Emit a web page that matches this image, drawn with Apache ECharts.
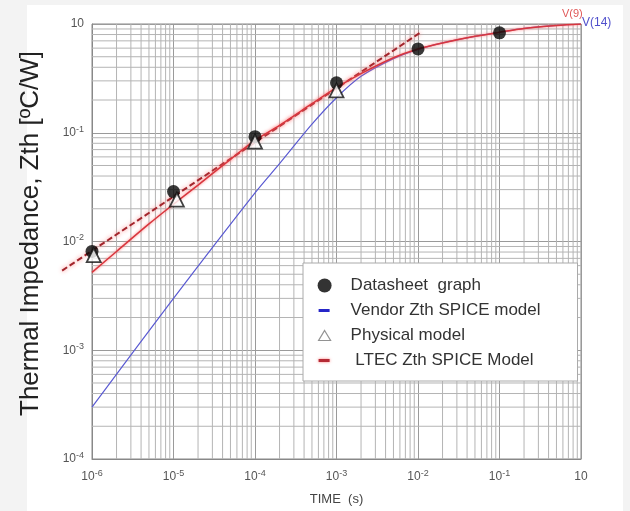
<!DOCTYPE html>
<html><head><meta charset="utf-8">
<script src="https://cdn.jsdelivr.net/npm/echarts@6/dist/echarts.min.js"></script>
<style>
html,body{margin:0;padding:0;background:#f3f3f3;}
#panel{position:absolute;left:27px;top:5px;width:596px;height:506px;background:#fff;}
#c{position:absolute;left:0;top:0;width:630px;height:511px;}
</style>
</head><body><div id="panel"></div><div id="c"></div>
<script>
// ---- tick labels ----
const xTickValues = [1e-6, 1e-5, 1e-4, 1e-3, 1e-2, 1e-1, 1];
const xTickLabels = ['10^-6', '10^-5', '10^-4', '10^-3', '10^-2', '10^-1', '10'];
const yTickValues = [1e-4, 1e-3, 1e-2, 1e-1, 1];
const yTickLabels = ['10^-4', '10^-3', '10^-2', '10^-1', '10'];

// ---- Datasheet graph (black dots) ----
const datasheetTime = [1e-6, 1e-5, 1e-4, 1e-3, 1e-2, 1e-1];
const datasheetZth  = [0.0081, 0.0288, 0.092, 0.288, 0.59, 0.83];

// ---- Physical model (triangles) ----
const physicalTime = [1.05e-6, 1.1e-5, 1e-4, 1e-3];
const physicalZth  = [0.0075, 0.0243, 0.083, 0.245];

// ---- Vendor Zth SPICE model (blue, V(14)) ----
const vendorTime = [1e-6, 1e-5, 1e-4, 2e-4, 5e-4, 1e-3, 2e-3, 5e-3, 1e-2, 2e-2, 5e-2, 1e-1, 2e-1, 5e-1, 1];
const vendorZth  = [3.0e-4, 3.0e-3, 0.028, 0.052, 0.12, 0.21, 0.33, 0.48, 0.585, 0.67, 0.77, 0.84, 0.91, 0.97, 1.0];

// ---- LTEC Zth SPICE Model (red, V(9)) ----
const ltecTime = [1e-6, 2e-6, 5e-6, 1e-5, 2e-5, 5e-5, 1e-4, 2e-4, 5e-4, 1e-3, 2e-3, 5e-3, 1e-2, 2e-2, 5e-2, 1e-1, 2e-1, 5e-1, 1];
const ltecZth  = [0.0052, 0.0081, 0.0145, 0.022, 0.033, 0.057, 0.085, 0.117, 0.185, 0.26, 0.35, 0.49, 0.59, 0.67, 0.77, 0.84, 0.91, 0.97, 1.0];

// ---- dashed power-law fit (dark red), start and end point ----
const fitTime = [4.3e-7, 1.06e-2];
const fitZth  = [0.0054, 0.83];

const zip = (a, b) => a.map((v, i) => [v, b[i]]);
const toRich = s => {
  const i = s.indexOf('^');
  return i < 0 ? '{b|' + s + '}' : '{b|' + s.slice(0, i) + '}{e|' + s.slice(i + 1) + '}';
};
const labelFor = (vals, labels) => v => {
  const k = vals.findIndex(t => Math.abs(Math.log10(t) - Math.log10(v)) < 1e-6);
  return k < 0 ? '' : toRich(labels[k]);
};
const tickRich = {
  b: {fontSize: 12, color: '#555', fontFamily: 'Liberation Sans', lineHeight: 16},
  e: {fontSize: 9, color: '#555', fontFamily: 'Liberation Sans', verticalAlign: 'top', lineHeight: 9}
};

// minor grid positions (2..9 within each decade)
const minorX = [], minorY = [];
xTickValues.slice(0, -1).forEach(d => { for (let m = 2; m <= 9; m++) minorX.push([m * d]); });
yTickValues.slice(0, -1).forEach(d => { for (let m = 2; m <= 9; m++) minorY.push([m * d]); });
const xMin = xTickValues[0], xMax = xTickValues[xTickValues.length - 1];
const yMin = yTickValues[0], yMax = yTickValues[yTickValues.length - 1];
const gridStyle = {stroke: '#b4b4b4', lineWidth: 1};

const chart = echarts.init(document.getElementById('c'), null, {renderer: 'canvas'});
chart.setOption({
  animation: false,
  backgroundColor: 'transparent',
  grid: {left: 92, right: 49, top: 24, bottom: 51, show: true, borderColor: '#888', borderWidth: 1, backgroundColor: 'transparent'},
  xAxis: {
    type: 'log', logBase: 10, min: xMin, max: xMax, splitNumber: 6,
    axisLine: {show: true, lineStyle: {color: '#888'}},
    axisTick: {show: false},
    splitLine: {show: true, lineStyle: {color: '#9a9a9a', width: 1}},
    axisLabel: {formatter: labelFor(xTickValues, xTickLabels), rich: tickRich, margin: 10},
    name: 'TIME  (s)', nameLocation: 'middle', nameGap: 34,
    nameTextStyle: {fontFamily: 'Liberation Sans', fontSize: 13, color: '#444'}
  },
  yAxis: {
    type: 'log', logBase: 10, min: yMin, max: yMax, splitNumber: 4,
    axisLine: {show: true, lineStyle: {color: '#888'}},
    axisTick: {show: false},
    splitLine: {show: true, lineStyle: {color: '#9a9a9a', width: 1}},
    axisLabel: {formatter: labelFor(yTickValues, yTickLabels), rich: tickRich, margin: 8},
    name: 'Thermal Impedance, Zth [ºC/W]', nameLocation: 'middle', nameGap: 48, nameRotate: 90,
    nameTextStyle: {fontFamily: 'Liberation Sans', fontSize: 26, color: '#222', padding: [0, 0, 0, 16]}
  },
  legend: {
    orient: 'vertical', left: 303, top: 263,
    padding: [14, 37, 12, 14], itemGap: 8, itemWidth: 14, itemHeight: 14,
    backgroundColor: '#fff', borderColor: '#aaa', borderWidth: 1,
    formatter: n => '{t|' + n + '}',
    textStyle: {rich: {t: {fontFamily: 'Liberation Sans', fontSize: 17, color: '#333', lineHeight: 16, padding: [0, 0, 0, 14]}}},
    data: [
      {name: 'Datasheet  graph', icon: 'circle', itemStyle: {color: '#000'}},
      {name: 'Vendor Zth SPICE model', icon: 'path://M0,0M14,14M1,5.5L12,5.5L12,8.5L1,8.5Z', itemStyle: {color: '#2626c8'}},
      {name: 'Physical model', icon: 'path://M0,0M14,14M7,2L13,12L1,12Z', itemStyle: {color: '#fff', borderColor: '#777', borderWidth: 1.2}},
      {name: ' LTEC Zth SPICE Model', icon: 'path://M0,0M14,14M1,5.5L12,5.5L12,8.5L1,8.5Z', itemStyle: {color: '#b52a35', shadowColor: 'rgba(255,90,90,0.8)', shadowBlur: 3}}
    ]
  },
  series: [
    {
      name: '_gridX', type: 'custom', silent: true, z: 1, data: minorX, encode: {x: 0},
      renderItem: (params, api) => {
        const p0 = api.coord([api.value(0), yMin]);
        const p1 = api.coord([api.value(0), yMax]);
        return {type: 'line', shape: {x1: p0[0], y1: p0[1], x2: p1[0], y2: p1[1]}, style: gridStyle};
      }
    },
    {
      name: '_gridY', type: 'custom', silent: true, z: 1, data: minorY, encode: {y: 0},
      renderItem: (params, api) => {
        const p0 = api.coord([xMin, api.value(0)]);
        const p1 = api.coord([xMax, api.value(0)]);
        return {type: 'line', shape: {x1: p0[0], y1: p0[1], x2: p1[0], y2: p1[1]}, style: gridStyle};
      }
    },
    {
      name: 'Vendor Zth SPICE model', type: 'line', data: zip(vendorTime, vendorZth),
      showSymbol: false, smooth: 0.3, z: 3,
      lineStyle: {color: '#5a5ad2', width: 1.2},
      itemStyle: {color: '#2626c8'},
      endLabel: {show: true, formatter: 'V(14)', color: '#5050cc', fontSize: 12, fontFamily: 'Liberation Sans', offset: [-7, -1]}
    },
    {
      name: '_fit', type: 'custom', clip: false, z: 4, silent: true,
      data: [[fitTime[0], fitZth[0], fitTime[1], fitZth[1]]],
      encode: {x: [0, 2], y: [1, 3]},
      renderItem: (params, api) => {
        const p0 = api.coord([api.value(0), api.value(1)]);
        const p1 = api.coord([api.value(2), api.value(3)]);
        return {
          type: 'line',
          shape: {x1: p0[0], y1: p0[1], x2: p1[0], y2: p1[1]},
          style: {stroke: '#a3252c', lineWidth: 2, lineDash: [6, 3], shadowColor: 'rgba(255,110,110,0.9)', shadowBlur: 4}
        };
      }
    },
    {
      name: ' LTEC Zth SPICE Model', type: 'line', data: zip(ltecTime, ltecZth),
      showSymbol: false, smooth: 0.3, z: 5,
      lineStyle: {color: '#d8363e', width: 1.5, shadowColor: 'rgba(255,110,110,0.9)', shadowBlur: 3},
      itemStyle: {color: '#b52a35'},
      endLabel: {show: true, formatter: 'V(9)', color: '#e05858', fontSize: 11, fontFamily: 'Liberation Sans', offset: [-27, -10]}
    },
    {
      name: 'Datasheet  graph', type: 'scatter', data: zip(datasheetTime, datasheetZth),
      symbol: 'circle', symbolSize: 13, z: 6, itemStyle: {color: '#080808'}
    },
    {
      name: 'Physical model', type: 'scatter', data: zip(physicalTime, physicalZth),
      symbol: 'triangle', symbolSize: 14, z: 7,
      itemStyle: {color: '#fff', borderColor: '#111', borderWidth: 1.8}
    }
  ]
});
</script>
</body></html>
